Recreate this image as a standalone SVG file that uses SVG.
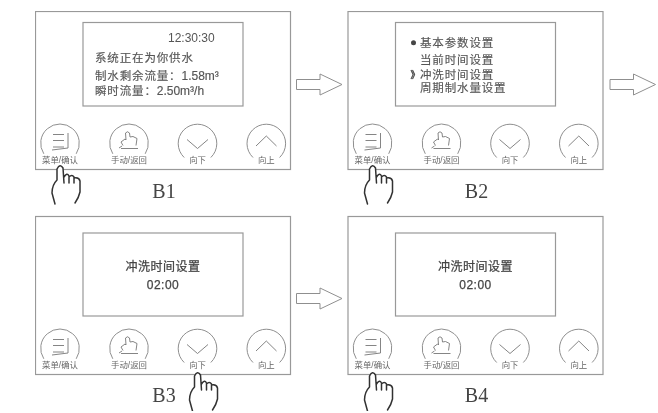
<svg xmlns="http://www.w3.org/2000/svg" xmlns:xlink="http://www.w3.org/1999/xlink" width="658" height="413" viewBox="0 0 658 413">
<style>
.ln{fill:none;stroke:#8f8f8f;stroke-width:1;stroke-linejoin:round}
.fr{fill:#fff;stroke:#999;stroke-width:1.2}
.ic{fill:none;stroke:#777;stroke-width:.9}
.hd{fill:#fff;stroke:#333;stroke-width:1.5;stroke-linejoin:round;stroke-linecap:round}
text{font-family:"Liberation Sans","Noto Sans CJK SC",sans-serif;fill:#555}
.t{font-size:11.5px;letter-spacing:.85px;stroke:#555;stroke-width:.15}
.n{font-size:12px}
.c{font-size:12px;letter-spacing:.5px;text-anchor:middle;fill:#444;stroke:#444;stroke-width:.25}
.k{font-size:8.4px;text-anchor:middle;fill:#666}
.lb{font-family:"Liberation Serif","Noto Sans CJK SC",serif;font-size:20px;text-anchor:middle;fill:#444}
</style>
<defs>
<filter id="soft" x="0" y="0" width="100%" height="100%"><feGaussianBlur stdDeviation="0.35"/></filter>
<g id="panel">
<rect class="fr" x="35.500" y="11.500" width="255" height="158"/>
<path class="ln" d="M43.800 153.800A19.300 19.300 0 1 1 76.200 153.800"/>
<path class="ic" d="M53 134.500H64M53 140.500H64M53 147H64M68 133V148L52 150"/>
<text class="k" x="60" y="162.500">菜单/确认</text>
<path class="ln" d="M112.800 153.800A19.300 19.300 0 1 1 145.200 153.800"/>
<path class="ic" d="M123 145.500L121 142L125 139L126 140L125.500 133Q127.500 130.500 129.500 133L130 137L133 136.500L137 138.500L136 145.500M119 148L122 146M121 148.500H138"/>
<text class="k" x="129" y="162.500">手动/返回</text>
<path class="ln" d="M184.200 157.500A19.300 19.300 0 1 1 210.800 157.500"/>
<path class="ic" d="M187 139.500L197.500 148.500L208 139.500"/>
<text class="k" x="197.500" y="162.500">向下</text>
<path class="ln" d="M253 157.500A19.300 19.300 0 1 1 279.600 157.500"/>
<path class="ic" d="M256 146L266.300 136L276.500 146"/>
<text class="k" x="266.300" y="162.500">向上</text>
</g>
<path id="hand" class="hd" d="M-5 39L-8 28Q-8 20-3 15L-3 4Q0-2 3 3L4 18M4 12Q7 7 9 11L9 18M9 12Q12 9 14 12L14 18M14 13Q19 12 20 16L20 27Q19 32 15 38"/>
<path id="arrow" class="ln" d="M0 5.500H23.500V0L45.500 10.500L23.500 21V15.500H0Z"/>
</defs>
<rect width="658" height="413" fill="#fff"/>
<g filter="url(#soft)">
<g id="connectors">
<use xlink:href="#arrow" href="#arrow" x="296.500" y="74"/>
<use xlink:href="#arrow" href="#arrow" x="610" y="74"/>
<use xlink:href="#arrow" href="#arrow" x="296.500" y="288"/>
</g>
<g id="B1">
<use xlink:href="#panel" href="#panel"/>
<rect class="fr" x="83" y="22.500" width="160" height="83.500"/>
<text class="n" x="168" y="42">12:30:30</text>
<text class="t" x="95" y="62">系统正在为你供水</text>
<text class="t" x="95" y="80">制水剩余流量：<tspan class="n" letter-spacing="0">1.58m³</tspan></text>
<text class="t" x="95" y="94.500">瞬时流量：<tspan class="n" letter-spacing="0">2.50m³/h</tspan></text>
<use xlink:href="#hand" href="#hand" x="60" y="165"/>
<text class="lb" x="164" y="198">B1</text>
</g>
<g id="B2" transform="translate(312.500 0)">
<use xlink:href="#panel" href="#panel"/>
<rect class="fr" x="83" y="22.500" width="160" height="83.500"/>
<circle cx="101" cy="42.700" r="2.500" fill="#444"/>
<text class="t" x="107.500" y="47">基本参数设置</text>
<text class="t" x="107.500" y="63.500">当前时间设置</text>
<text class="t" x="98" y="78" style="font-size:9.500px;stroke-width:.5">》</text>
<text class="t" x="107.500" y="78.500">冲洗时间设置</text>
<text class="t" x="107.500" y="91.500">周期制水量设置</text>
<use xlink:href="#hand" href="#hand" x="60" y="165"/>
<text class="lb" x="164" y="198">B2</text>
</g>
<g id="B3" transform="translate(0 205)">
<use xlink:href="#panel" href="#panel"/>
<rect class="fr" x="83" y="28" width="160" height="83"/>
<text class="c" x="163" y="65.500">冲洗时间设置</text>
<text class="c" x="163" y="83.500">02:00</text>
<use xlink:href="#hand" href="#hand" x="197.500" y="167"/>
<text class="lb" x="164" y="197">B3</text>
</g>
<g id="B4" transform="translate(312.500 205)">
<use xlink:href="#panel" href="#panel"/>
<rect class="fr" x="83" y="28" width="160" height="83"/>
<text class="c" x="163" y="65.500">冲洗时间设置</text>
<text class="c" x="163" y="83.500">02:00</text>
<use xlink:href="#hand" href="#hand" x="60" y="167"/>
<text class="lb" x="164" y="197">B4</text>
</g>
</g>
</svg>
